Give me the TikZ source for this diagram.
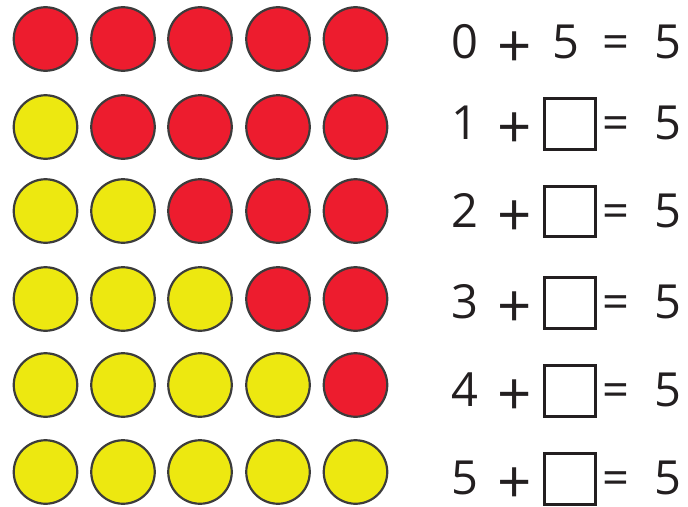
\documentclass[tikz,border=0pt]{standalone}
\usepackage{fontspec}
\setmainfont{Open Sans}
\definecolor{dotred}{RGB}{237,28,46}
\definecolor{dotyellow}{RGB}{237,232,16}
\definecolor{dotline}{RGB}{60,60,60}
\definecolor{txt}{RGB}{35,31,32}
\begin{document}
\begin{tikzpicture}[x=1pt,y=-1pt,
  dot/.style={circle,draw=dotline,line width=2.2pt,minimum size=63.5pt,inner sep=0pt},
  reddot/.style={dot,fill=dotred},
  yellowdot/.style={dot,fill=dotyellow},
  sym/.style={anchor=base,inner sep=0pt,text=txt,font=\fontsize{47}{47}\selectfont},
  plussym/.style={anchor=base,inner sep=0pt,text=txt,font=\fontsize{60}{60}\selectfont},
  answerbox/.style={draw=txt,line width=3.4pt,minimum size=50.5pt,inner sep=0pt}]
\useasboundingbox (0,0) rectangle (688,506);
\foreach \r/\cy/\ty/\by in {0/39/41/124,1/127/122/124,2/211/210/211.5,3/299/301/303,4/385/389/391,5/472/477/479}{
  \foreach \c/\cx in {0/45.5,1/123,2/200,3/278,4/355.5}{
    \ifnum\c<\r
      \node[yellowdot] (c\r\c) at (\cx,\cy) {};
    \else
      \node[reddot] (c\r\c) at (\cx,\cy) {};
    \fi
  }
  \node[sym] (a\r) at (464.5,\ty+17) {\r};
  \node[plussym] (p\r) at (514.5,\ty+26) {+};
  \ifnum\r=0
    \node[sym] (m\r) at (566,\ty+17) {5};
  \else
    \node[answerbox] (m\r) at (570,\by) {};
  \fi
  \node[sym] (e\r) at (616,\ty+17) {=};
  \node[sym] (s\r) at (668,\ty+17) {5};
}
\end{tikzpicture}
\end{document}
